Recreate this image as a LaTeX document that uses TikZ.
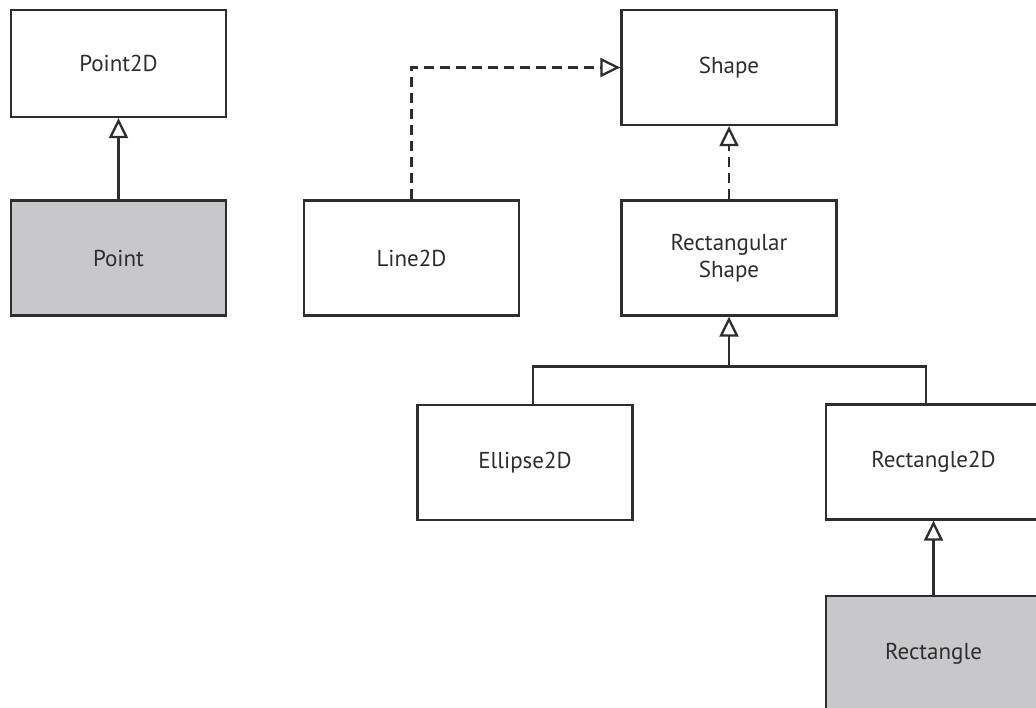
\documentclass[tikz,border=0pt]{standalone}
\usepackage{fontspec}
\setmainfont{PT Sans}
\usetikzlibrary{arrows.meta,calc}
\definecolor{ln}{HTML}{2E2E2E}
\definecolor{tx}{HTML}{2E2E2E}
\definecolor{gfill}{HTML}{C8C8CA}
\tikzset{
  cls/.style={draw=ln, line width=2.3pt, rectangle, minimum width=215pt, minimum height=115pt,
    inner sep=0pt, text=tx, align=center, font=\fontsize{23}{27}\selectfont},
  grey/.style={fill=gfill},
  inh/.style={draw=ln, line width=2.3pt, -{Triangle[open, length=20pt, width=19pt, line width=2.3pt]}},
  real/.style={inh, dash pattern=on 10pt off 6pt},
  link/.style={draw=ln, line width=2.3pt}
}
\begin{document}
\begin{tikzpicture}[x=1pt,y=-1pt]
\useasboundingbox (0,0) rectangle (1036,707);
\fill[white] (0,0) rectangle (1036,707);
\clip (0,0) rectangle (1036,707);
\node[cls, minimum height=107pt] (point2d) at (118.5,63.5) {Point2D};
\node[cls, grey] (point) at (118.5,258) {Point};
\node[cls] (line2d) at (411.5,258) {Line2D};
\node[cls] (shape) at (729,67.5) {Shape};
\node[cls] (rshape) at (729,258) {Rectangular\\Shape};
\node[cls] (ellipse) at (525,462.5) {Ellipse2D};
\node[cls] (rect2d) at (933.5,462) {Rectangle2D};
\node[cls, grey] (rect) at (933.5,653.5) {Rectangle};
\coordinate (j) at (729,367);
\draw[inh] (point.north) -- (point2d.south);
\draw[real] (line2d.north) |- (shape.west);
\draw[real] (rshape.north) -- (shape.south);
\draw[link] (ellipse.north -| 533,0) |- ($(rect2d.north)+(-7.5,-37)$) -- ($(rect2d.north)+(-7.5,0)$);
\draw[inh] (j) -- (rshape.south);
\draw[inh] (rect.north) -- (rect2d.south);
\end{tikzpicture}
\end{document}
